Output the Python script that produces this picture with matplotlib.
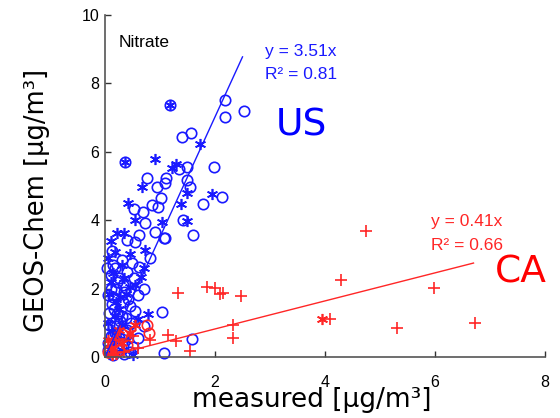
import matplotlib
matplotlib.use("Agg")
import matplotlib.pyplot as plt
import numpy as np

# ---- data ----
us_circle_x = [1.18, 2.19, 2.53, 2.19, 1.40, 1.56, 0.36, 1.49, 1.35, 1.98, 0.77, 1.10, 0.95, 1.55, 1.49,
               1.02, 2.12, 1.78, 0.53, 0.69, 0.97, 0.85, 1.09, 1.42, 1.60, 1.09, 0.73, 0.62, 0.91, 0.40,
               0.55, 1.07, 0.31, 0.49, 0.62, 0.18, 0.25, 0.53, 0.71, 0.12, 0.35, 0.15, 0.45, 0.08, 0.30,
               0.55, 1.03, 0.20, 0.40, 0.10, 0.60, 0.45, 1.58, 1.08, 0.25, 0.05, 0.15, 0.35, 0.50, 0.70,
               0.82, 0.20, 0.60, 0.10, 0.40,
               0.05, 0.12, 0.22, 0.32, 0.08, 0.18, 0.28, 0.38, 0.06, 0.16, 0.26, 0.42, 0.10, 0.22, 0.33,
               0.48, 0.14, 0.04, 0.24, 0.36]
us_circle_y = [7.37, 7.51, 7.19, 7.02, 6.43, 6.55, 5.70, 5.55, 5.50, 5.55, 5.23, 5.23, 4.97, 4.97, 5.17,
               4.65, 4.68, 4.47, 4.33, 4.24, 4.39, 4.44, 5.08, 4.00, 3.57, 3.48, 3.92, 3.57, 3.65, 3.42,
               3.36, 3.48, 2.84, 2.75, 2.63, 2.60, 2.30, 2.30, 2.00, 3.10, 1.90, 1.75, 1.50, 1.30, 1.20,
               1.35, 1.32, 0.90, 0.80, 0.60, 0.55, 0.15, 0.52, 0.12, 0.35, 0.20, 0.05, 0.10, 0.30, 0.90,
               2.90, 2.00, 1.80, 2.40, 2.50,
               1.80, 1.55, 1.25, 1.60, 0.95, 0.70, 1.05, 1.15, 0.40, 1.40, 0.55, 1.70, 2.00, 2.20, 2.10,
               1.00, 2.70, 2.60, 0.20, 0.70]
us_star_x = [0.91, 1.73, 1.29, 1.22, 0.67, 1.49, 1.94, 0.42, 1.38, 1.18, 0.36, 1.49, 0.55, 1.04, 0.35,
             0.22, 0.73, 0.18, 0.71, 0.55, 0.78, 0.30, 0.10, 0.45, 0.20, 0.05, 0.30, 0.15, 0.40, 0.60,
             0.25, 0.08, 0.50, 0.30, 0.65, 0.10, 0.45,
             0.08, 0.18, 0.28, 0.12, 0.38, 0.05, 0.22, 0.35, 0.15]
us_star_y = [5.79, 6.23, 5.64, 5.53, 4.97, 4.80, 4.77, 4.50, 4.47, 7.37, 5.70, 3.98, 4.00, 3.95, 3.63,
             3.63, 3.13, 3.07, 2.60, 2.10, 1.26, 2.70, 2.20, 2.05, 1.60, 1.00, 0.95, 0.40, 0.50, 1.10,
             1.40, 0.10, 0.05, 0.20, 2.35, 3.40, 3.00,
             1.85, 1.20, 1.75, 0.75, 1.85, 2.90, 0.60, 2.30, 2.45]

ca_plus_x = [1.33, 1.85, 2.00, 2.09, 2.15, 2.47, 2.33, 2.33, 1.55, 1.15, 1.29, 0.82, 4.75, 4.29, 5.98,
             4.09, 5.30, 6.73, 0.20, 0.10, 0.35, 0.50, 0.15, 0.60]
ca_plus_y = [1.87, 2.05, 2.01, 1.84, 1.87, 1.78, 0.94, 0.56, 0.18, 0.64, 0.47, 0.50, 3.69, 2.25, 2.01,
             1.11, 0.85, 1.00, 0.50, 0.30, 0.15, 0.60, 0.05, 0.25]
ca_circle_x = [0.76, 0.80, 0.30, 0.15, 0.25, 0.05, 0.40]
ca_circle_y = [0.94, 0.70, 0.67, 0.40, 0.20, 0.15, 0.35]
ca_star_x = [3.94, 0.55, 0.45, 0.10, 0.20, 0.05, 0.30, 0.12, 0.25]
ca_star_y = [1.11, 0.94, 0.70, 0.26, 0.10, 0.50, 0.40, 0.05, 0.80]

us_slope, us_r2, us_xmax = 3.51, 0.81, 2.5
ca_slope, ca_r2, ca_xmax = 0.41, 0.66, 6.7

x_ticks = [0, 2, 4, 6, 8]
y_ticks = [0, 2, 4, 6, 8, 10]

# ---- figure ----
fig = plt.figure(figsize=(5.6, 4.18), dpi=100)
ax = fig.add_axes([105/560, 1-357/418, 440/560, 342/418])

blue = (0.1, 0.1, 1.0)
red = (1.0, 0.15, 0.15)
ast = (6, 2, 0)

ax.plot(us_circle_x, us_circle_y, 'o', mfc='none', mec=blue, ms=7.5, mew=1.2, clip_on=False)
ax.plot(us_star_x, us_star_y, ls='none', marker=ast, color=blue, ms=8, mew=1.2, clip_on=False)
ax.plot(ca_plus_x, ca_plus_y, ls='none', marker='+', color=red, ms=8, mew=1.2, clip_on=False)
ax.plot(ca_circle_x, ca_circle_y, 'o', mfc='none', mec=red, ms=7.5, mew=1.2, clip_on=False)
ax.plot(ca_star_x, ca_star_y, ls='none', marker=ast, color=red, ms=8, mew=1.2, clip_on=False)

xs = np.array([0, us_xmax])
ax.plot(xs, us_slope*xs, color=blue, lw=1.0)
xs = np.array([0, ca_xmax])
ax.plot(xs, ca_slope*xs, color=red, lw=1.0)

ax.set_xlim(0, 8)
ax.set_ylim(0, 10)
ax.set_xticks(x_ticks)
ax.set_yticks(y_ticks)
ax.spines['top'].set_visible(False)
ax.spines['right'].set_visible(False)
for s in ('left', 'bottom'):
    ax.spines[s].set_color('#555555')
    ax.spines[s].set_linewidth(1.2)
ax.tick_params(direction='in', length=4, width=1, color='#333333',
               labelsize=11.5, labelfontfamily='Liberation Sans')
ax.tick_params(axis='x', pad=13)
ax.tick_params(axis='y', pad=4)

tf = dict(family='Liberation Sans', fontsize=12.5)
ax.text(0.25, 9.21, 'Nitrate', color='black', va='center', ha='left', **tf)
ax.text(2.91, 8.92, f'y = {us_slope:.2f}x', color=blue, va='center', ha='left', **tf)
ax.text(2.91, 8.25, f'R² = {us_r2:.2f}', color=blue, va='center', ha='left', **tf)
ax.text(5.93, 3.95, f'y = {ca_slope:.2f}x', color=red, va='center', ha='left', **tf)
ax.text(5.93, 3.27, f'R² = {ca_r2:.2f}', color=red, va='center', ha='left', **tf)
ax.text(3.58, 6.78, 'US', color='blue', fontsize=27, family='DejaVu Sans', ha='center', va='center')
ax.text(7.56, 2.46, 'CA', color='red', fontsize=27, family='DejaVu Sans', ha='center', va='center', clip_on=False)

fig.text(37/560, 1-200/418, 'GEOS-Chem [µg/m³]', rotation=90, ha='center', va='center',
         fontsize=18.5, family='DejaVu Sans')
fig.text(312/560, 1-400/418, 'measured [µg/m³]', ha='center', va='center',
         fontsize=19, family='DejaVu Sans')

fig.savefig('out.png', dpi=100)
